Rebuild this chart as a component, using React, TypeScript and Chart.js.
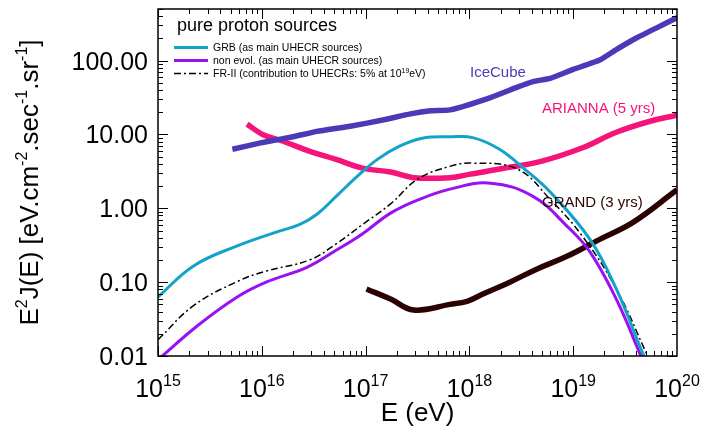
import React, { useEffect, useRef } from "react";
import { Chart, registerables } from "chart.js";
Chart.register(...registerables);

// ---- data (energy in eV, E^2 J(E) in eV cm^-2 s^-1 sr^-1) ----
const grbE = [1e15, 2.2e15, 5.8e15, 1.4e16, 2.3e16, 3.4e16, 5.2e16, 8.3e16, 1.3e17, 2.1e17, 3.5e17, 6.5e17, 1.1e18, 1.95e18, 3.4e18, 6e18, 1.45e19, 2.6e19, 4.7e19, 5.3e19];
const grbF = [0.063, 0.166, 0.31, 0.48, 0.6, 0.83, 1.45, 2.7, 4.6, 6.9, 8.9, 9.3, 9.0, 6.3, 3.4, 1.66, 0.38, 0.081, 0.0107, 0.0075];

const nonEvolE = [1e15, 2.4e15, 5.8e15, 1.1e16, 2.75e16, 5.2e16, 9.3e16, 1.74e17, 3.2e17, 6.5e17, 1.6e18, 4.1e18, 8.7e18, 1.45e19, 2.6e19, 4.4e19, 4.9e19];
const nonEvolF = [0.0089, 0.0257, 0.063, 0.1, 0.16, 0.27, 0.45, 0.86, 1.3, 1.82, 2.19, 1.45, 0.575, 0.257, 0.059, 0.0107, 0.0075];

const fr2E = [1e15, 2.2e15, 5.8e15, 1.1e16, 2.9e16, 5.2e16, 9.3e16, 1.74e17, 3.2e17, 6.5e17, 1.07e18, 2.9e18, 6e18, 1.23e19, 2.6e19, 5.1e19, 5.7e19];
const fr2F = [0.0166, 0.048, 0.102, 0.141, 0.2, 0.33, 0.6, 1.15, 2.5, 3.7, 4.1, 3.4, 1.32, 0.417, 0.081, 0.0107, 0.0075];

const iceE = [5.2e15, 1.02e16, 2e16, 3.4e16, 7.1e16, 1.5e17, 2.7e17, 4.2e17, 6.5e17, 1.6e18, 2.9e18, 4.1e18, 6e18, 1e19, 1.8e19, 2.6e19, 4.1e19, 6.5e19, 1e20];
const iceF = [6.3, 7.8, 9.3, 11, 12.9, 15.8, 19, 20.9, 21.5, 31.6, 43.7, 52, 57.5, 76, 102, 141, 204, 282, 380];

const ariE = [7.2e15, 1.02e16, 1.6e16, 2.9e16, 5.2e16, 9.3e16, 1.74e17, 2.9e17, 6.5e17, 1.02e18, 1.95e18, 5.1e18, 1.23e19, 2.6e19, 5.5e19, 1e20];
const ariF = [13.8, 10, 8.1, 5.9, 4.6, 3.5, 3.1, 2.6, 2.6, 2.9, 3.4, 4.4, 6.6, 10.7, 15.1, 18.2];

const grandE = [1.02e17, 1.74e17, 2.9e17, 6.5e17, 9.5e17, 1.35e18, 2.45e18, 4.5e18, 8.7e18, 1.8e19, 3.8e19, 1e20];
const grandF = [0.081, 0.059, 0.042, 0.05, 0.055, 0.069, 0.1, 0.151, 0.224, 0.38, 0.65, 1.78];

const xTickExponents = [15, 16, 17, 18, 19, 20];
const yTickValues = [0.01, 0.1, 1, 10, 100];
const yTickLabels = ["0.01", "0.10", "1.00", "10.00", "100.00"];

const legendTitle = "pure proton sources";
const legendLabels = ["GRB (as main UHECR sources)", "non evol. (as main UHECR sources)"];

const C_GRB = "#14a3c8";
const C_NONEVOL = "#9a10f2";
const C_FR2 = "#000000";
const C_ICE = "#4a3ab8";
const C_ARI = "#f5147a";
const C_GRAND = "#2b0202";

const FONT = '"Liberation Sans", Arial, Helvetica, sans-serif';

type Part = [string, boolean];

function richWidth(ctx: CanvasRenderingContext2D, parts: Part[], size: number, supSize: number) {
  let w = 0;
  for (const [t, sup] of parts) {
    ctx.font = `${sup ? supSize : size}px ${FONT}`;
    w += ctx.measureText(t).width;
  }
  return w;
}

function drawRich(ctx: CanvasRenderingContext2D, parts: Part[], x: number, y: number, size: number, supSize: number, rise: number, align: "left" | "center" | "right") {
  const w = richWidth(ctx, parts, size, supSize);
  let cx = align === "left" ? x : align === "center" ? x - w / 2 : x - w;
  ctx.textAlign = "left";
  ctx.textBaseline = "alphabetic";
  for (const [t, sup] of parts) {
    ctx.font = `${sup ? supSize : size}px ${FONT}`;
    ctx.fillText(t, cx, sup ? y - rise : y);
    cx += ctx.measureText(t).width;
  }
}

const decorPlugin = {
  id: "decor",
  afterDraw(chart: any) {
    const ctx: CanvasRenderingContext2D = chart.ctx;
    const { left, right, top, bottom } = chart.chartArea;
    const xs = chart.scales.x;
    const ys = chart.scales.y;
    ctx.save();
    // ticks
    ctx.strokeStyle = "#000";
    ctx.lineWidth = 1;
    ctx.beginPath();
    for (let e = 15; e < 20; e++) {
      for (let m = 1; m < 10; m++) {
        const px = Math.round(xs.getPixelForValue(m * Math.pow(10, e))) + 0.5;
        const len = m === 1 ? 10 : 5;
        ctx.moveTo(px, bottom);
        ctx.lineTo(px, bottom - len);
        ctx.moveTo(px, top);
        ctx.lineTo(px, top + len);
      }
    }
    for (let e = -2; e <= 2; e++) {
      for (let m = 1; m < 10; m++) {
        const v = m * Math.pow(10, e);
        if (v > 500) break;
        const py = Math.round(ys.getPixelForValue(v)) + 0.5;
        const len = m === 1 ? 10 : 5;
        ctx.moveTo(left, py);
        ctx.lineTo(left + len, py);
        ctx.moveTo(right, py);
        ctx.lineTo(right - len, py);
      }
    }
    ctx.stroke();
    // frame
    ctx.lineWidth = 1.5;
    ctx.strokeRect(left, top, right - left, bottom - top);

    ctx.fillStyle = "#000";
    // y tick labels
    ctx.font = `25px ${FONT}`;
    ctx.textAlign = "right";
    ctx.textBaseline = "alphabetic";
    yTickValues.forEach((v, i) => {
      const py = ys.getPixelForValue(v);
      ctx.fillText(yTickLabels[i], left - 10, py + 9);
    });
    // x tick labels
    xTickExponents.forEach((e) => {
      const px = xs.getPixelForValue(Math.pow(10, e));
      drawRich(ctx, [["10", false], [String(e), true]], px, 397, 25, 16, 11, "center");
    });
    // x title
    ctx.font = `26px ${FONT}`;
    ctx.textAlign = "center";
    ctx.fillText("E (eV)", (left + right) / 2, 421);
    // y title
    ctx.save();
    ctx.translate(38, (top + bottom) / 2);
    ctx.rotate(-Math.PI / 2);
    drawRich(
      ctx,
      [["E", false], ["2", true], ["J(E) [eV.cm", false], ["-2", true], [".sec", false], ["-1", true], [".sr", false], ["-1", true], ["]", false]],
      0, 0, 26, 16, 11, "center"
    );
    ctx.restore();

    // legend
    ctx.font = `18px ${FONT}`;
    ctx.textAlign = "left";
    ctx.fillText(legendTitle, 177, 31);
    const lx0 = 174, lx1 = 208, tx = 213;
    const rows = [47.5, 60.5, 73.5];
    ctx.lineWidth = 3;
    ctx.strokeStyle = C_GRB;
    ctx.beginPath(); ctx.moveTo(lx0, rows[0]); ctx.lineTo(lx1, rows[0]); ctx.stroke();
    ctx.strokeStyle = C_NONEVOL;
    ctx.beginPath(); ctx.moveTo(lx0, rows[1]); ctx.lineTo(lx1, rows[1]); ctx.stroke();
    ctx.strokeStyle = C_FR2;
    ctx.lineWidth = 1.5;
    ctx.setLineDash([7, 3, 2, 3]);
    ctx.beginPath(); ctx.moveTo(lx0, rows[2]); ctx.lineTo(lx1, rows[2]); ctx.stroke();
    ctx.setLineDash([]);
    ctx.fillStyle = "#000";
    ctx.font = `10.5px ${FONT}`;
    ctx.fillText(legendLabels[0], tx, rows[0] + 3.5);
    ctx.fillText(legendLabels[1], tx, rows[1] + 3.5);
    drawRich(ctx, [["FR-II (contribution to UHECRs: 5% at 10", false], ["19", true], ["eV)", false]], tx, rows[2] + 3.5, 10.5, 7, 4, "left");

    // curve labels
    ctx.font = `15px ${FONT}`;
    ctx.textAlign = "left";
    ctx.fillStyle = C_ICE;
    ctx.fillText("IceCube", 470, 77);
    ctx.fillStyle = C_ARI;
    ctx.fillText("ARIANNA (5 yrs)", 542, 113);
    ctx.fillStyle = C_GRAND;
    ctx.fillText("GRAND (3 yrs)", 542, 207);
    ctx.restore();
  },
};

function pts(xs: number[], ys: number[]) {
  return xs.map((x, i) => ({ x, y: ys[i] }));
}

export default function App() {
  const ref = useRef<HTMLCanvasElement | null>(null);
  useEffect(() => {
    if (!ref.current) return;
    const common = { pointRadius: 0, fill: false, tension: 0.4 };
    const chart = new Chart(ref.current, {
      type: "line",
      data: {
        datasets: [
          { ...common, label: "GRB", data: pts(grbE, grbF), borderColor: C_GRB, borderWidth: 3 },
          { ...common, label: "non evol.", data: pts(nonEvolE, nonEvolF), borderColor: C_NONEVOL, borderWidth: 3 },
          { ...common, label: "FR-II", data: pts(fr2E, fr2F), borderColor: C_FR2, borderWidth: 1.5, borderDash: [7, 3, 2, 3] },
          { ...common, label: "IceCube", data: pts(iceE, iceF), borderColor: C_ICE, borderWidth: 5.5, tension: 0.15 },
          { ...common, label: "ARIANNA (5 yrs)", data: pts(ariE, ariF), borderColor: C_ARI, borderWidth: 5.5 },
          { ...common, label: "GRAND (3 yrs)", data: pts(grandE, grandF), borderColor: C_GRAND, borderWidth: 5.5 },
        ] as any,
      },
      options: {
        responsive: false,
        animation: false,
        devicePixelRatio: 1,
        layout: { padding: { left: 158, right: 42, top: 9, bottom: 71 } },
        scales: {
          x: { type: "logarithmic", min: 1e15, max: 1e20, display: false },
          y: { type: "logarithmic", min: 0.01, max: 500, display: false },
        },
        plugins: { legend: { display: false }, tooltip: { enabled: false } },
      },
      plugins: [decorPlugin],
    });
    return () => chart.destroy();
  }, []);
  return (
    <div style={{ position: "fixed", left: 0, top: 0, width: 719, height: 427, background: "#fff" }}>
      <canvas ref={ref} width={719} height={427} style={{ display: "block" }} />
    </div>
  );
}
